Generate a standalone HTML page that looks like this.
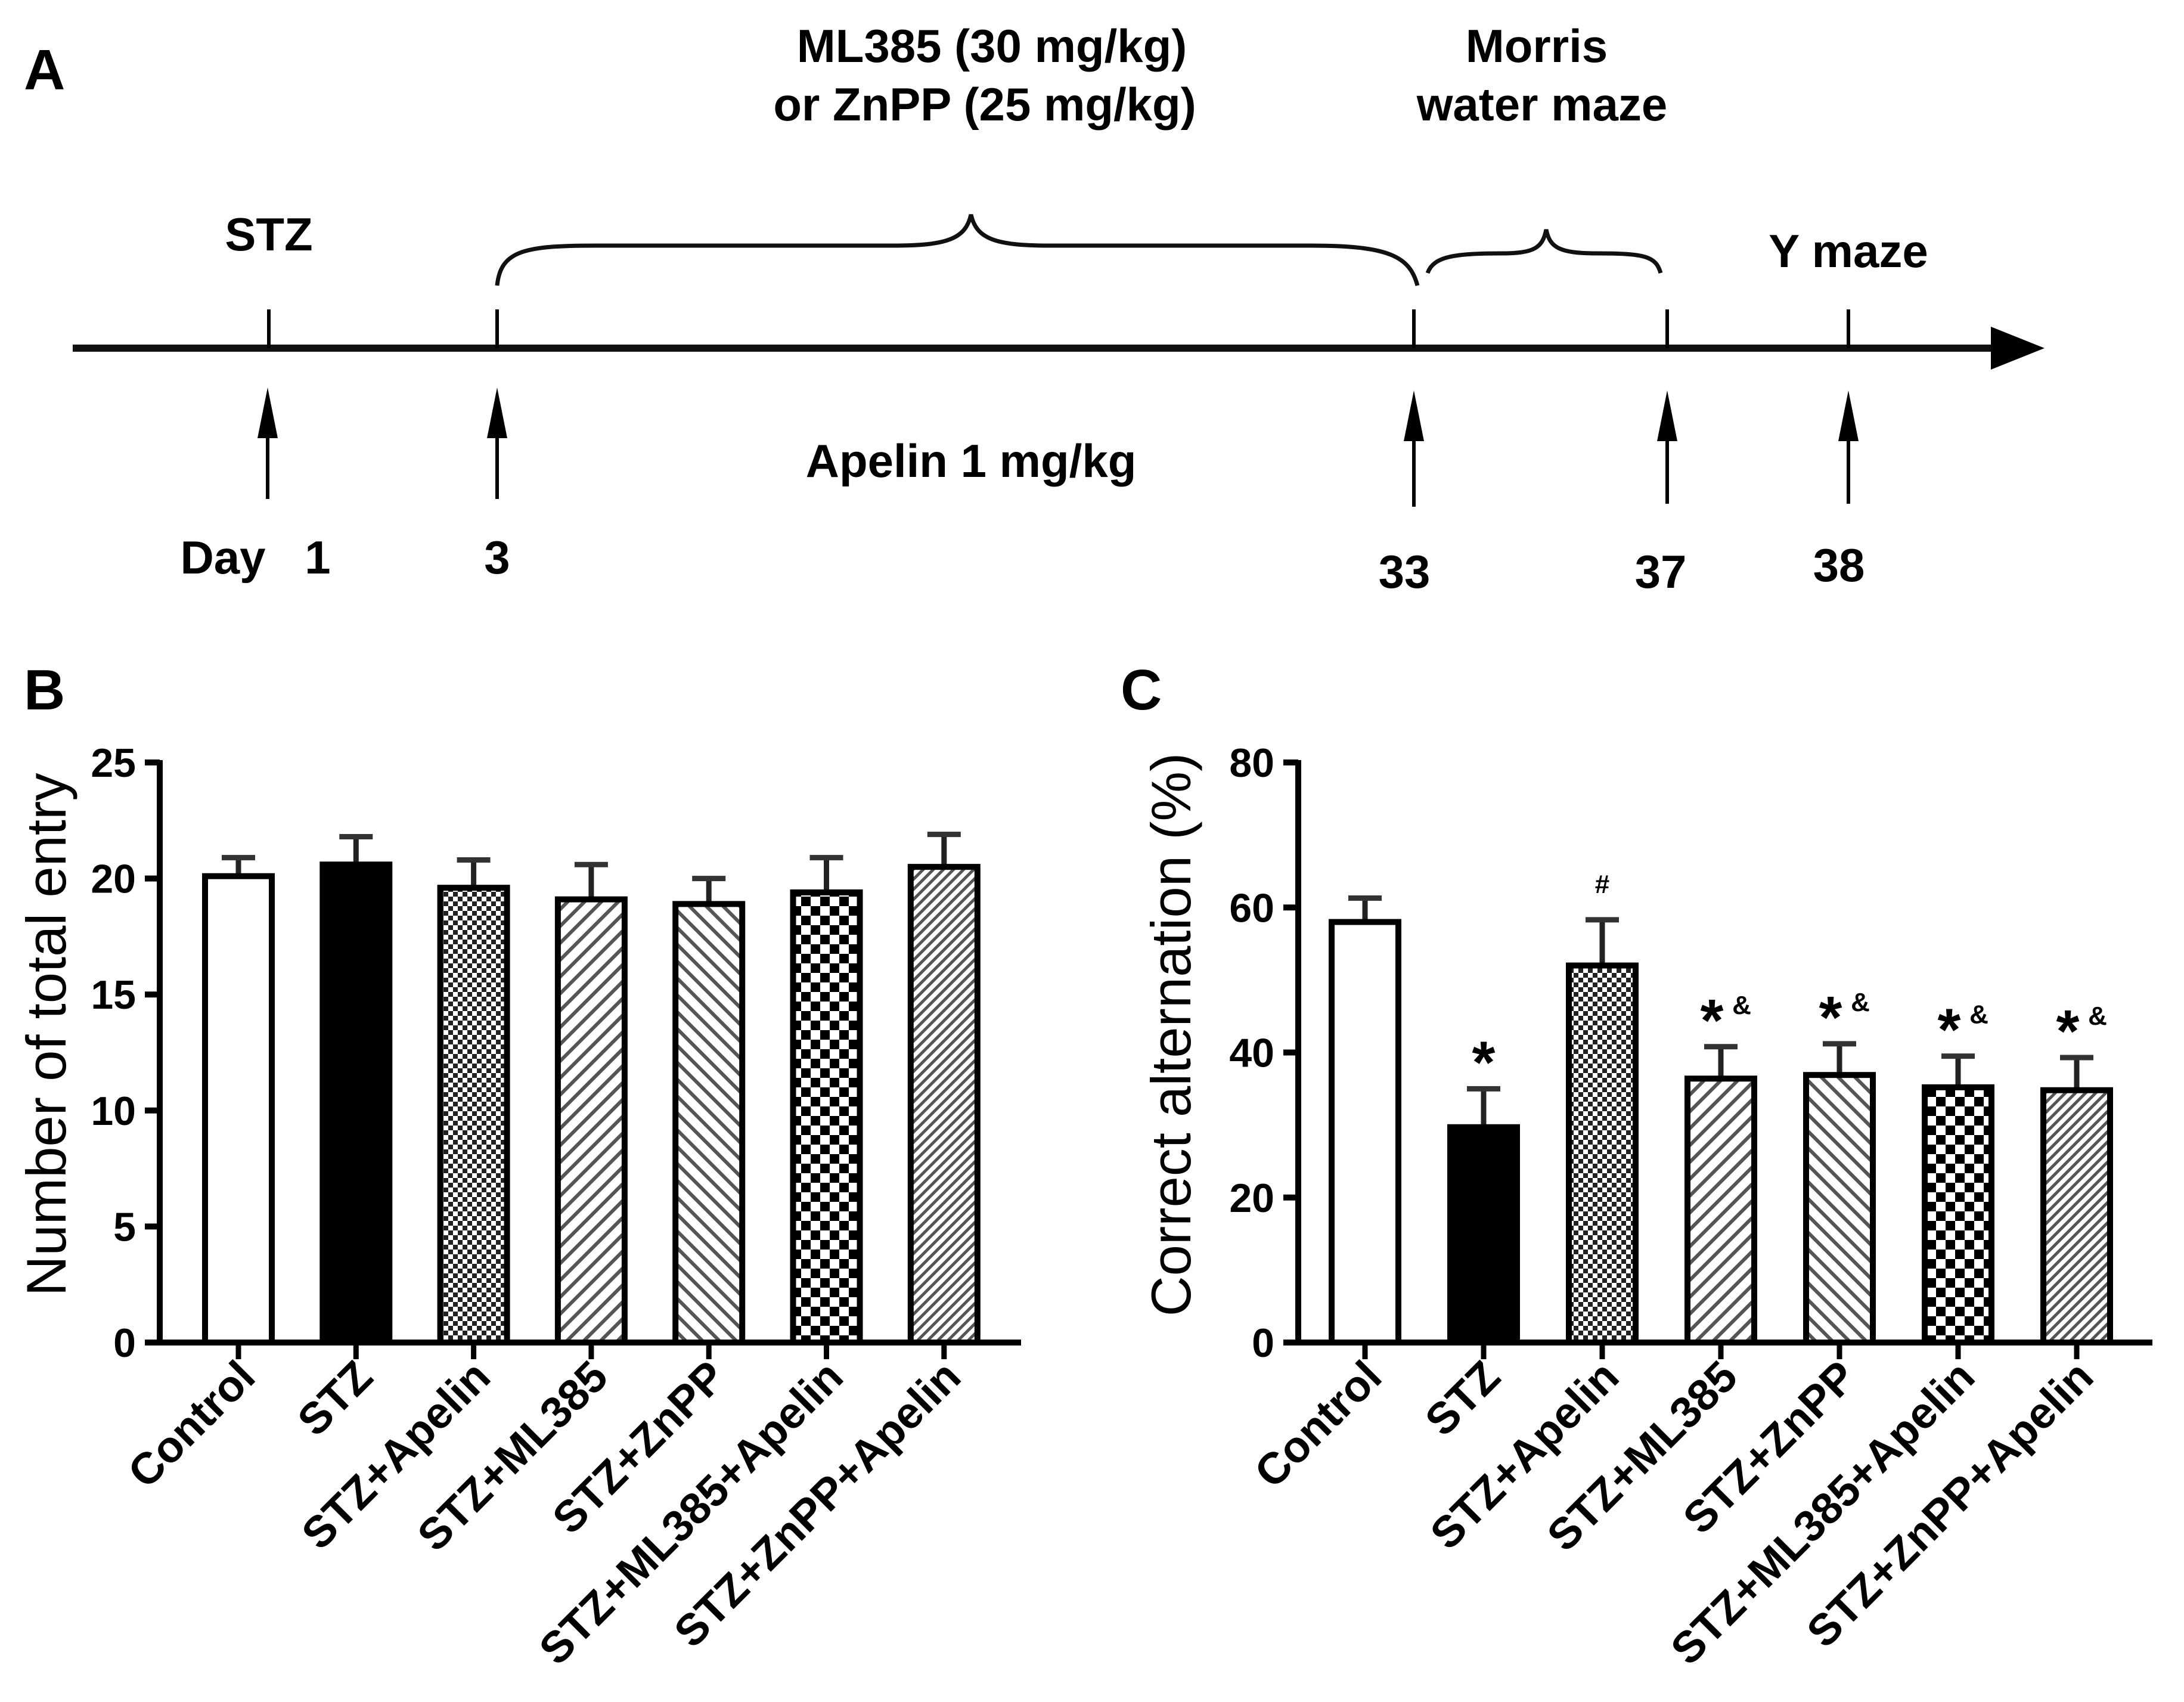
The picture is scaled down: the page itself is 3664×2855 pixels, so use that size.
<!DOCTYPE html>
<html><head><meta charset="utf-8"><style>
html,body{margin:0;padding:0;background:#fff;}
svg{display:block;font-family:"Liberation Sans",Arial,sans-serif;}
</style></head><body>
<svg id="fig" width="3664" height="2855" viewBox="0 0 3664 2855" xmlns="http://www.w3.org/2000/svg">
<defs>
<pattern id="pChkS" width="16" height="16" patternUnits="userSpaceOnUse"><rect width="16" height="16" fill="#fff"/><rect width="8" height="8" fill="#222"/><rect x="8" y="8" width="8" height="8" fill="#222"/></pattern>
<pattern id="pChkL" width="32" height="32" patternUnits="userSpaceOnUse"><rect width="32" height="32" fill="#fff"/><rect width="16" height="16" fill="#000"/><rect x="16" y="16" width="16" height="16" fill="#000"/></pattern>
<pattern id="pFwd" width="20" height="20" patternUnits="userSpaceOnUse" patternTransform="rotate(45)"><rect width="20" height="20" fill="#fff"/><rect width="6" height="20" fill="#555"/></pattern>
<pattern id="pBack" width="20" height="20" patternUnits="userSpaceOnUse" patternTransform="rotate(-45)"><rect width="20" height="20" fill="#fff"/><rect width="6" height="20" fill="#555"/></pattern>
<pattern id="pDense" width="12" height="12" patternUnits="userSpaceOnUse" patternTransform="rotate(45)"><rect width="12" height="12" fill="#fff"/><rect width="5" height="12" fill="#555"/></pattern>
</defs>

<g font-weight="bold" fill="#000">
<text x="40" y="150" font-size="96">A</text>
<line x1="122" y1="584" x2="3360" y2="584" stroke="#111" stroke-width="12"/>
<polygon points="3340,548 3430,584 3340,620" fill="#000"/>
<g stroke="#000" stroke-width="6">
<line x1="451" y1="519" x2="451" y2="584"/><line x1="834" y1="519" x2="834" y2="584"/>
<line x1="2372" y1="519" x2="2372" y2="584"/><line x1="2797" y1="519" x2="2797" y2="584"/><line x1="3101" y1="519" x2="3101" y2="584"/>
</g>
<g stroke="#000" stroke-width="6">
<line x1="449" y1="720" x2="449" y2="837"/><line x1="834" y1="720" x2="834" y2="837"/>
<line x1="2372" y1="720" x2="2372" y2="850"/><line x1="2797" y1="720" x2="2797" y2="845"/><line x1="3101" y1="720" x2="3101" y2="845"/>
</g>
<g fill="#000">
<polygon points="449,650 432,735 466,735"/><polygon points="834,650 817,735 851,735"/>
<polygon points="2372,655 2355,740 2389,740"/><polygon points="2797,655 2780,740 2814,740"/><polygon points="3101,655 3084,740 3118,740"/>
</g>
<path d="M834,479 C840,420 880,412 1000,412 L1500,412 C1590,412 1620,400 1629,360 C1638,400 1668,412 1760,412 L2200,412 C2330,412 2365,430 2378,479" fill="none" stroke="#111" stroke-width="7"/>
<path d="M2395,458 C2405,430 2440,425 2520,425 C2575,425 2588,415 2594,385 C2600,415 2615,425 2680,425 C2760,425 2778,430 2786,458" fill="none" stroke="#111" stroke-width="7"/>
<g font-size="78" text-anchor="middle">
<text x="451" y="420">STZ</text>
<text x="3101" y="448">Y maze</text>
<text x="1664" y="104">ML385 (30 mg/kg)</text>
<text x="1652" y="202">or ZnPP (25 mg/kg)</text>
<text x="2578" y="104">Morris</text>
<text x="2587" y="202">water maze</text>
<text x="1629" y="800">Apelin 1 mg/kg</text>
<text x="374" y="962">Day</text>
<text x="533" y="962">1</text>
<text x="834" y="962">3</text>
<text x="2356" y="986">33</text>
<text x="2786" y="986">37</text>
<text x="3085" y="975">38</text>
</g>
</g>
<text x="40" y="1190" font-size="96" font-weight="bold">B</text>
<text x="1880" y="1190" font-size="96" font-weight="bold">C</text>
<g id="chartB"></g>
<g id="chartC"></g>
</svg>
<script>
const categories = ["Control","STZ","STZ+Apelin","STZ+ML385","STZ+ZnPP","STZ+ML385+Apelin","STZ+ZnPP+Apelin"];
const entryMeans = [20.1,20.6,19.6,19.1,18.9,19.4,20.5];
const entryErrTops = [20.9,21.8,20.8,20.6,20.0,20.9,21.9];
const entryTicks = [0,5,10,15,20,25];
const altMeans = [58,29.7,52,36.4,36.9,35.2,34.8];
const altErrTops = [61.3,35,58.3,40.8,41.2,39.5,39.3];
const altTicks = [0,20,40,60,80];
const altMarks = ["","*","#","*&","*&","*&","*&"];
const fills = ["#fff","#000","url(#pChkS)","url(#pFwd)","url(#pBack)","url(#pChkL)","url(#pDense)"];
const NS="http://www.w3.org/2000/svg";
function mk(parent,tag,attrs,text){const e=document.createElementNS(NS,tag);for(const k in attrs)e.setAttribute(k,attrs[k]);if(text!==undefined)e.textContent=text;parent.appendChild(e);return e;}
function drawChart(g,opt){
  const y0=2252,yTop=1279;
  const yScale=v=>y0-(v/opt.max)*(y0-yTop);
  const xScale=i=>opt.x0+i*opt.step;
  const ax=mk(g,'line',{x1:opt.ax,y1:yTop-4,x2:opt.ax,y2:y0+5,stroke:'#000','stroke-width':10});
  
  
  const xa=mk(g,'line',{x1:opt.ax-25,y1:y0,x2:opt.xEnd,y2:y0,stroke:'#000','stroke-width':10});
  
  
  opt.ticks.forEach(t=>{
    const y=yScale(t);
    const tl=mk(g,'line',{x1:opt.ax-25,y1:y,x2:opt.ax,y2:y,stroke:'#000','stroke-width':10});
    
    
    const tx=mk(g,'text',{x:opt.ax-40,y:y+24,'font-size':68,'font-weight':'bold','text-anchor':'end'},String(t));
    
    
  });
  const tt=mk(g,'text',{x:0,y:0,'font-size':94,'text-anchor':'middle',transform:`translate(${opt.titleX},${(yTop+y0)/2-30}) rotate(-90)`},opt.title);
  
  
  const bw=122;
  categories.forEach((c,i)=>{
    const cx=xScale(i), yv=yScale(opt.means[i]), ye=yScale(opt.errs[i]);
    const er=mk(g,'line',{x1:cx,y1:yv,x2:cx,y2:ye,stroke:'#222','stroke-width':9});
    
    
    const cap=mk(g,'line',{x1:cx-28,y1:ye,x2:cx+28,y2:ye,stroke:'#333','stroke-width':9});
    
    
    const b=mk(g,'rect',{x:cx-bw/2+5,y:yv,width:bw-10,height:y0-yv,fill:fills[i],stroke:'#000','stroke-width':10});
    
    
    const tk=mk(g,'line',{x1:cx,y1:y0,x2:cx,y2:y0+28,stroke:'#000','stroke-width':9});
    
    
    const lb=mk(g,'text',{x:0,y:0,'font-size':74,'font-weight':'bold','text-anchor':'end',transform:`translate(${cx+32},${y0+62}) rotate(-45)`},c);
    
    
    if(opt.marks&&opt.marks[i]){
      const m=opt.marks[i];
      if(m==="#"){
        const t=mk(g,'text',{x:cx,y:ye-45,'font-size':44,'font-weight':'bold','text-anchor':'middle'},'#');
        
        
      } else {
        const t=mk(g,'text',{x:m.length>1?cx-15:cx,y:ye-10,'font-size':100,'font-weight':'bold','text-anchor':'middle'},'*');
        
        
        if(m.length>1){
          const a=mk(g,'text',{x:cx+35,y:ye-55,'font-size':44,'font-weight':'bold','text-anchor':'middle'},'&');
          
          
        }
      }
    }
  });
}
drawChart(document.getElementById('chartB'),{max:25,ticks:entryTicks,means:entryMeans,errs:entryErrTops,x0:400,step:197.3,ax:268,xEnd:1713,title:"Number of total entry",titleX:110});
drawChart(document.getElementById('chartC'),{max:80,ticks:altTicks,means:altMeans,errs:altErrTops,marks:altMarks,x0:2290,step:199,ax:2178,xEnd:3611,title:"Correct alternation (%)",titleX:1997});
</script>
</body></html>
